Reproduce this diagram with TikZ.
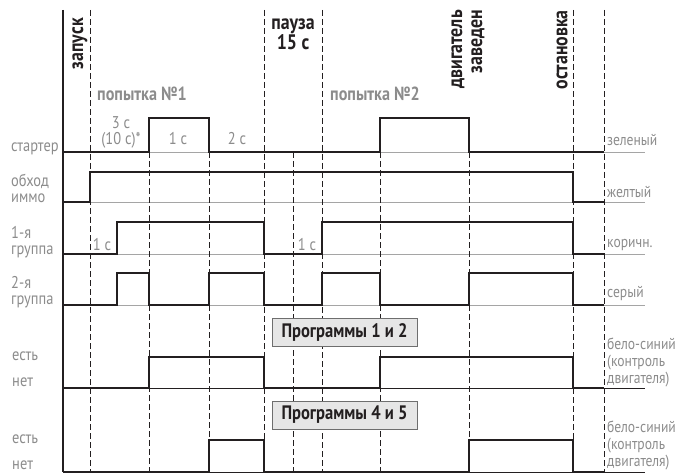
\documentclass[tikz,border=0pt]{standalone}
\usepackage{fontspec}
\setmainfont[FakeStretch=0.85]{PT Sans}
\usetikzlibrary{positioning}
\definecolor{inkblack}{RGB}{35,31,32}
\definecolor{labelgray}{RGB}{140,140,140}
\definecolor{linegray}{RGB}{165,165,165}
\definecolor{boxgray}{RGB}{230,230,230}
\definecolor{boxedge}{RGB}{110,110,110}

\begin{document}
\begin{tikzpicture}[x=1pt, y=-1pt,
    sig/.style={line width=2.4pt, inkblack},
    rowline/.style={line width=0.8pt, linegray},
    timeline/.style={line width=0.9pt, inkblack, dash pattern=on 6pt off 3pt},
    lbl/.style={inner sep=0pt, labelgray, align=left, font=\fontsize{17}{16}\selectfont},
    wire/.style={lbl, font=\fontsize{16}{17}\selectfont},
    event/.style={inner sep=0pt, inkblack, font=\bfseries\fontsize{21}{20}\selectfont},
    attempt/.style={inner sep=0pt, labelgray, font=\bfseries\fontsize{19}{18}\selectfont},
    progbox/.style={draw=boxedge, fill=boxgray, line width=0.8pt, minimum width=145pt,
      minimum height=28pt, inner sep=0pt, text=inkblack, font=\bfseries\fontsize{19.5}{18}\selectfont}]
  \useasboundingbox (0,0) rectangle (677,473);

  % Row base lines
  \foreach \y in {152,202,254,305}
    \draw[rowline] (63,\y) -- (645,\y);
  \foreach \y in {388,472}
    \draw[line width=0.8pt, inkblack] (63,\y) -- (645,\y);

  % Time marks
  \foreach \x in {90,264,322,573,604}
    \draw[timeline] (\x,10) -- (\x,472);
  \foreach \x in {149,209,293,380,469}
    \draw[timeline] (\x,152) -- (\x,472);

  % Axis
  \draw[line width=2pt, inkblack] (63,10) -- (63,472);

  % Signals
  \draw[sig] (63,152) -| (149,118) -| (209,152) -| (380,118) -| (469,152) -- (604,152);
  \draw[sig] (63,202) -| (90,172) -| (573,202) -- (604,202);
  \draw[sig] (63,254) -| (117,222) -| (264,254) -| (322,222) -| (573,254) -- (604,254);
  \draw[sig] (63,305) -| (117,273) -| (149,305) -| (209,273) -| (264,305) -| (322,273)
    -| (380,305) -| (469,273) -| (573,305) -- (604,305);
  \draw[sig] (63,388) -| (149,357) -| (264,388) -| (380,357) -| (573,388) -- (604,388);
  \draw[sig] (63,472) -| (209,440) -| (264,472) -| (469,440) -| (573,472) -- (604,472);

  % Program boxes
  \node[progbox] (prog12) at (344.5,332) {Программы 1 и 2};
  \node[progbox] (prog45) at (344.5,415) {Программы 4 и 5};

  % Events on top
  \node[event, rotate=90, anchor=east] (start) at (80,18) {запуск};
  \node[event, align=center, anchor=base] (pause) at (293,50) {пауза\\15 с};
  \node[event, rotate=90, anchor=east, align=right] (running) at (468,10) {двигатель\\заведен};
  \node[event, rotate=90, anchor=east] (stop) at (562,10) {остановка};
  \node[attempt, anchor=base west] (try1) at (97,101) {попытка №1};
  \node[attempt, anchor=base west] (try2) at (330,101) {попытка №2};

  % Durations
  \node[lbl, align=center, anchor=base] (crank) at (121,145) {3 с\\(10 с)*};
  \node[lbl, anchor=base] (hold) at (178,145) {1 с};
  \node[lbl, anchor=base] (wait) at (237,145) {2 с};
  \node[lbl, anchor=base] (delay1) at (102,250) {1 с};
  \node[lbl, anchor=base] (delay2) at (307,250) {1 с};

  % Signal names
  \node[lbl, anchor=base west] (starter) at (11,152) {стартер};
  \node[lbl, anchor=base west] (immo) at (11,203) {обход\\иммо};
  \node[lbl, anchor=base west] (group1) at (11,254) {1-я\\группа};
  \node[lbl, anchor=base west] (group2) at (11,304) {2-я\\группа};
  \node[lbl, anchor=base west] (on12) at (12,360) {есть};
  \node[lbl, anchor=base west] (off12) at (12,386) {нет};
  \node[lbl, anchor=base west] (on45) at (12,443) {есть};
  \node[lbl, anchor=base west] (off45) at (12,469) {нет};

  % Wire colours
  \node[wire, anchor=base west] (green) at (607,146) {зеленый};
  \node[wire, anchor=base west] (yellow) at (607,197) {желтый};
  \node[wire, anchor=base west] (brown) at (607,247) {коричн.};
  \node[wire, anchor=base west] (grey) at (607,297) {серый};
  \node[wire, anchor=base west] (ctrl12) at (607,383) {бело-синий\\(контроль\\двигателя)};
  \node[wire, anchor=base west] (ctrl45) at (607,466) {бело-синий\\(контроль\\двигателя)};
\end{tikzpicture}
\end{document}
